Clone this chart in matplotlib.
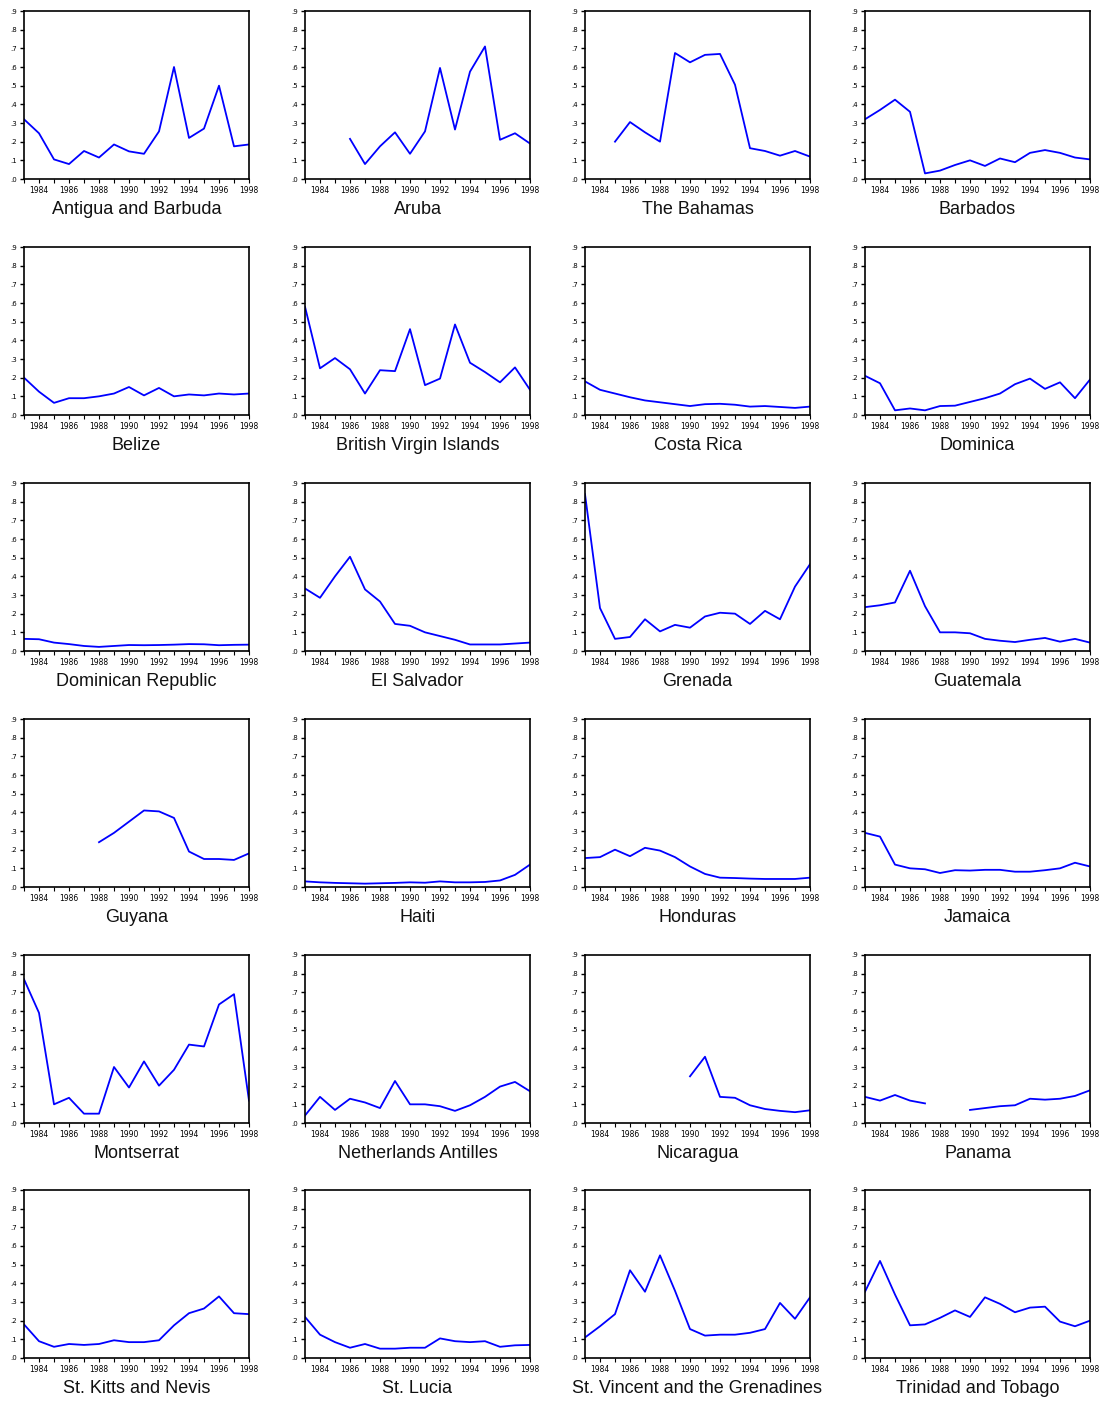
import numpy as np
import matplotlib
matplotlib.use("Agg")
import matplotlib.pyplot as plt
from matplotlib.ticker import FixedLocator, FuncFormatter

nan = np.nan
years = list(range(1983, 1999))

# values, 1983..1998
antigua = [.32, .245, .105, .08, .15, .115, .185, .148, .135, .255, .60, .22, .27, .50, .175, .185]
aruba = [nan, nan, nan, .215, .08, .175, .25, .135, .255, .595, .265, .575, .71, .21, .245, .19]
bahamas = [nan, nan, .20, .305, .25, .20, .675, .625, .665, .67, .505, .165, .15, .125, .15, .12]
barbados = [.32, .37, .425, .36, .03, .045, .075, .10, .07, .11, .09, .14, .155, .14, .115, .105]
belize = [.20, .125, .065, .09, .09, .10, .115, .15, .105, .145, .10, .11, .105, .115, .11, .115]
bvi = [.58, .25, .305, .245, .115, .24, .235, .46, .16, .195, .485, .28, .23, .175, .255, .135]
costa_rica = [.18, .135, .115, .095, .078, .068, .058, .048, .058, .06, .055, .045, .048, .043, .038, .045]
dominica = [.21, .17, .025, .035, .025, .048, .05, .07, .09, .115, .165, .195, .14, .175, .09, .19]
dom_rep = [.065, .063, .045, .037, .027, .022, .027, .032, .031, .032, .034, .037, .036, .031, .033, .034]
el_salvador = [.335, .285, .40, .505, .33, .265, .145, .135, .10, .08, .06, .035, .035, .035, .04, .045]
grenada = [.84, .23, .065, .075, .17, .105, .14, .125, .185, .205, .20, .145, .215, .17, .345, .465]
guatemala = [.235, .245, .26, .43, .24, .10, .10, .095, .065, .055, .048, .06, .07, .05, .065, .045]
guyana = [nan, nan, nan, nan, nan, .24, .29, .35, .41, .405, .37, .19, .15, .15, .145, .18]
haiti = [.03, .025, .022, .02, .018, .02, .022, .025, .023, .03, .025, .025, .027, .035, .065, .12]
honduras = [.155, .16, .20, .165, .21, .195, .16, .11, .07, .05, .048, .045, .043, .043, .043, .05]
jamaica = [.29, .27, .12, .10, .095, .075, .09, .088, .092, .092, .082, .082, .09, .10, .13, .11]
montserrat = [.77, .59, .10, .135, .05, .05, .30, .19, .33, .20, .285, .42, .41, .635, .69, .12]
neth_antilles = [.04, .14, .07, .13, .11, .08, .225, .10, .10, .09, .065, .095, .14, .195, .22, .17]
nicaragua = [nan, nan, nan, nan, nan, nan, nan, .25, .355, .14, .135, .095, .075, .065, .058, .068]
panama = [.14, .12, .15, .12, .105, nan, nan, .07, .08, .09, .095, .13, .125, .13, .145, .175]
st_kitts = [.18, .09, .06, .075, .07, .075, .095, .085, .085, .095, .175, .24, .265, .33, .24, .235]
st_lucia = [.22, .125, .085, .055, .075, .05, .05, .055, .055, .105, .09, .085, .09, .06, .068, .07]
st_vincent = [.11, .17, .235, .47, .355, .55, .36, .155, .12, .125, .125, .135, .155, .295, .21, .325]
trinidad = [.355, .52, .34, .175, .18, .215, .255, .22, .325, .29, .245, .27, .275, .195, .17, .20]

names = ["Antigua and Barbuda", "Aruba", "The Bahamas", "Barbados",
         "Belize", "British Virgin Islands", "Costa Rica", "Dominica",
         "Dominican Republic", "El Salvador", "Grenada", "Guatemala",
         "Guyana", "Haiti", "Honduras", "Jamaica",
         "Montserrat", "Netherlands Antilles", "Nicaragua", "Panama",
         "St. Kitts and Nevis", "St. Lucia", "St. Vincent and the Grenadines", "Trinidad and Tobago"]
series = [antigua, aruba, bahamas, barbados, belize, bvi, costa_rica, dominica,
          dom_rep, el_salvador, grenada, guatemala, guyana, haiti, honduras, jamaica,
          montserrat, neth_antilles, nicaragua, panama, st_kitts, st_lucia, st_vincent, trinidad]

W, H = 1104, 1407
fig = plt.figure(figsize=(W / 100, H / 100), dpi=100)

col_left = [24, 305, 585, 865]
row_top = [11, 247, 483, 719, 955, 1190]
aw, ah = 225, 168

for i, (name, vals) in enumerate(zip(names, series)):
    r, c = divmod(i, 4)
    ax = fig.add_axes([col_left[c] / W, 1 - (row_top[r] + ah) / H, aw / W, ah / H])
    ax.plot(years, vals, color="#0000ff", lw=1.3)
    ax.set_xlim(1983, 1998)
    ax.set_ylim(0, 0.9)
    ax.yaxis.set_major_locator(FixedLocator(np.arange(0, 0.91, 0.1)))
    ax.yaxis.set_major_formatter(FuncFormatter(lambda v, p: "." + str(int(round(v * 10)))))
    ax.xaxis.set_major_locator(FixedLocator(range(1984, 1999, 2)))
    ax.xaxis.set_minor_locator(FixedLocator(range(1983, 1999)))
    ax.tick_params(axis="y", direction="out", length=3, width=1, labelsize=5, pad=2)
    ax.tick_params(axis="x", which="both", direction="out", length=3, width=0.8, labelsize=5.5, pad=2)
    for s in ax.spines.values():
        s.set_linewidth(1.2)
    ax.text(0.5, -0.18, name, transform=ax.transAxes, ha="center", va="center",
            fontsize=13, family=["Liberation Sans", "DejaVu Sans"], color="#111111")

fig.savefig("out.png", dpi=100, facecolor="white")
